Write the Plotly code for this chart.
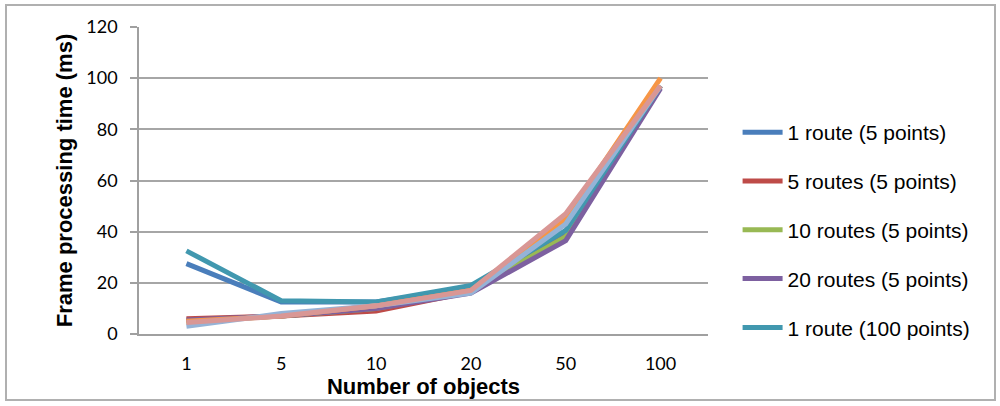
import plotly.graph_objects as go

categories = ["1", "5", "10", "20", "50", "100"]

s_1route_5pts = [27.5, 12.5, 12.5, 18.0, 39.0, 97.0]
s_5routes_5pts = [6.0, 7.0, 9.0, 16.5, 38.0, 97.0]
s_10routes_5pts = [5.0, 7.0, 10.0, 17.0, 38.0, 97.0]
s_20routes_5pts = [5.5, 7.0, 10.0, 16.0, 36.5, 96.0]
s_1route_100pts = [32.5, 13.0, 12.5, 19.0, 40.5, 97.0]
s_extra_orange = [5.0, 7.0, 11.0, 17.0, 45.0, 100.0]
s_extra_lightblue = [3.0, 8.0, 11.0, 16.0, 43.0, 97.0]
s_extra_pink = [4.5, 7.0, 11.0, 17.0, 47.0, 97.0]

series = [
    ("1 route (5 points)", s_1route_5pts, "#4A7EBB", True),
    ("5 routes (5 points)", s_5routes_5pts, "#BE4B48", True),
    ("10 routes (5 points)", s_10routes_5pts, "#98B954", True),
    ("20 routes (5 points)", s_20routes_5pts, "#7D60A0", True),
    ("1 route (100 points)", s_1route_100pts, "#4198AF", True),
    ("Series 6", s_extra_orange, "#F79646", False),
    ("Series 7", s_extra_lightblue, "#95B3D7", False),
    ("Series 8", s_extra_pink, "#D99795", False),
]

fig = go.Figure()
for i, (name, vals, color, show) in enumerate(series):
    fig.add_trace(go.Scatter(
        x=categories, y=vals, name=name, mode="lines",
        line=dict(color=color, width=5),
        showlegend=show, legendgroup=f"g{i}",
    ))

fig.update_layout(
    width=1000, height=406,
    margin=dict(l=139, r=292, t=27, b=72),
    paper_bgcolor="white", plot_bgcolor="white",
    font=dict(family="Liberation Sans, Arial", color="#000000"),
    legend=dict(
        x=1.052, y=0.723, xanchor="left", yanchor="top",
        font=dict(size=21, family="Liberation Sans, Arial"),
        tracegroupgap=18.5, itemwidth=40,
    ),
    xaxis=dict(
        type="category", range=[-0.5, 5.5], showgrid=False, showline=True,
        linecolor="#A0A0A0", linewidth=1.5,
        ticks="", tickfont=dict(size=18, family="Lato, Liberation Sans"),
        ticklabelstandoff=13,
        title=dict(text="<b>Number of objects</b>", font=dict(size=22, family="Liberation Sans, Arial"), standoff=4),
    ),
    yaxis=dict(
        range=[0, 120], dtick=20, showgrid=True, gridcolor="#A6A6A6", gridwidth=1.5,
        showline=True, linecolor="#A0A0A0", linewidth=1.5, zeroline=False,
        ticks="outside", ticklen=7, tickcolor="#A0A0A0", tickwidth=1.5,
        tickfont=dict(size=18, family="Lato, Liberation Sans"),
        ticklabelstandoff=9,
        title=dict(text="<b>Frame processing time (ms)</b>", font=dict(size=22, family="Liberation Sans, Arial"), standoff=8),
    ),
    shapes=[dict(
        type="rect", xref="paper", yref="paper",
        x0=(6 - 139) / 569, x1=(995 - 139) / 569,
        y0=(334 - 400) / 307, y1=(334 - 5) / 307,
        line=dict(color="#B0B0B0", width=2), fillcolor="rgba(0,0,0,0)", layer="below",
    )],
)

fig.write_html("out.html", config={"displayModeBar": False},
               post_script="document.body.style.margin='0px';")
